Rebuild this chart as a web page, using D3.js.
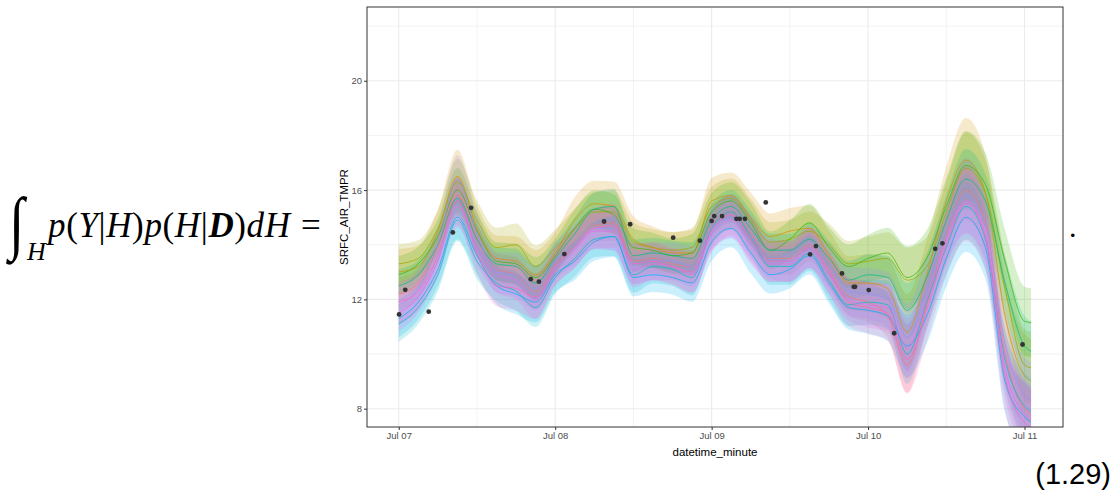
<!DOCTYPE html>
<html>
<head>
<meta charset="utf-8">
<script src="https://cdn.jsdelivr.net/npm/d3@7"></script>
<style>
  html, body { margin: 0; padding: 0; background: #fff; }
  svg { display: block; }
</style>
</head>
<body>
<div id="chart"></div>
<script>
// hours after Jul 07 00:00
const hours = [0, 3, 6, 9, 12, 15, 18, 21, 24, 27, 30, 33, 36, 39, 42, 45, 48, 51, 54, 57, 60, 63, 66, 69, 72, 75, 78, 81, 84, 87, 90, 93, 96, 97];

const redVals     = [12.2, 12.6, 13.9, 15.8, 14.2, 13.1, 12.9, 12.3, 13.3, 14.0, 14.7, 14.8, 13.4, 13.5, 13.3, 13.2, 14.7, 15.2, 14.4, 13.5, 13.5, 14.0, 13.1, 12.1, 11.9, 11.4, 9.6, 11.8, 14.3, 16.0, 14.8, 10.0, 8.0, 7.8];
const orangeVals  = [13.0, 13.2, 14.5, 16.5, 14.6, 13.5, 13.4, 12.9, 13.7, 14.9, 15.5, 15.4, 14.2, 13.9, 13.7, 13.7, 15.6, 15.8, 15.0, 14.3, 14.5, 14.6, 13.6, 12.6, 12.6, 12.4, 10.8, 12.9, 15.6, 17.1, 15.9, 11.4, 9.2, 9.0];
const oliveVals   = [13.3, 13.5, 14.6, 16.3, 14.9, 13.9, 14.0, 13.2, 13.9, 14.6, 15.2, 15.2, 14.1, 13.9, 13.8, 13.9, 15.4, 15.7, 14.9, 14.1, 14.2, 14.5, 14.0, 13.3, 13.4, 13.5, 12.7, 13.2, 15.2, 16.8, 15.9, 12.4, 9.6, 9.5];
const greenVals   = [12.9, 13.3, 14.3, 16.0, 14.5, 13.4, 13.3, 12.8, 13.6, 14.6, 15.3, 15.1, 13.9, 13.8, 13.6, 13.7, 15.2, 15.6, 14.8, 13.8, 14.2, 14.8, 13.9, 13.2, 13.5, 13.7, 12.8, 13.5, 15.4, 16.9, 16.2, 13.4, 11.2, 11.15];
const tealVals    = [12.5, 12.9, 14.0, 15.7, 14.2, 13.3, 13.2, 12.6, 13.5, 14.4, 15.3, 15.4, 13.6, 13.7, 13.6, 13.5, 14.9, 15.4, 14.6, 13.8, 13.8, 14.2, 13.5, 12.7, 12.9, 12.8, 11.6, 12.8, 14.9, 16.4, 15.6, 12.6, 10.3, 10.1];
const cyanVals    = [11.1, 11.7, 12.9, 14.9, 13.4, 12.6, 12.3, 11.7, 12.8, 13.5, 14.2, 14.3, 12.9, 13.2, 13.1, 12.8, 14.6, 15.2, 14.3, 13.2, 13.2, 13.7, 12.7, 11.8, 11.9, 11.8, 10.0, 11.9, 13.9, 15.4, 14.2, 9.8, 8.1, 7.9];
const blueVals    = [11.3, 11.9, 13.1, 15.0, 13.6, 12.5, 12.2, 11.9, 12.9, 13.4, 14.1, 14.3, 12.8, 12.9, 12.8, 12.6, 14.1, 14.6, 13.7, 12.9, 13.1, 13.6, 12.6, 11.7, 11.6, 11.4, 10.3, 11.4, 13.5, 15.0, 13.9, 9.0, 7.7, 7.5];
const purpleVals  = [11.8, 12.4, 14.0, 16.4, 14.4, 13.0, 12.9, 12.4, 13.4, 14.0, 14.6, 14.6, 13.3, 13.4, 13.4, 13.2, 14.6, 15.0, 14.3, 13.5, 13.4, 13.9, 13.2, 12.3, 12.2, 12.0, 10.6, 12.4, 14.5, 15.8, 14.7, 10.4, 8.5, 8.3];
const magentaVals = [11.5, 12.1, 13.4, 15.4, 13.9, 12.9, 12.7, 12.0, 13.1, 13.8, 14.5, 14.5, 13.1, 13.3, 13.2, 12.9, 14.4, 14.9, 14.0, 13.3, 13.3, 13.8, 12.9, 12.0, 11.8, 11.7, 10.2, 12.0, 14.2, 15.6, 14.4, 9.5, 7.8, 7.6];
const pinkVals    = [11.9, 12.3, 13.6, 15.6, 13.7, 12.5, 12.4, 12.1, 13.2, 13.9, 14.6, 14.7, 13.3, 13.4, 13.2, 13.0, 14.5, 15.1, 14.2, 13.4, 13.4, 13.9, 13.0, 11.9, 11.7, 11.5, 9.8, 11.6, 14.0, 15.5, 14.3, 9.2, 7.5, 7.3];

// half width of the ribbons per time step, and how wide each series' ribbon is relative to it
const bandHalf = [0.6, 0.55, 0.55, 0.7, 0.6, 0.6, 0.65, 0.65, 0.55, 0.6, 0.6, 0.65, 0.6, 0.55, 0.55, 0.6, 0.6, 0.6, 0.65, 0.6, 0.6, 0.6, 0.65, 0.7, 0.75, 0.8, 1.0, 0.9, 0.9, 1.1, 1.0, 1.0, 1.1, 1.1];
const bandScale = [1.0, 1.4, 1.2, 1.15, 1.0, 1.1, 1.15, 1.25, 1.1, 1.25];

// observed points
const obsHours  = [0.05, 1.0, 4.6, 8.3, 11.1, 20.25, 21.5, 25.4, 31.5, 35.5, 42.1, 46.2, 48.0, 48.4, 49.6, 51.8, 52.3, 53.1, 56.3, 63.1, 64.0, 68.0, 69.8, 70.0, 72.1, 76.0, 82.3, 83.4, 95.7];
const obsValues = [11.45, 12.35, 11.55, 14.45, 15.35, 12.74, 12.65, 13.66, 14.85, 14.75, 14.26, 14.15, 14.87, 15.05, 15.05, 14.95, 14.95, 14.95, 15.55, 13.65, 13.95, 12.95, 12.46, 12.46, 12.34, 10.76, 13.85, 14.05, 10.35];

const yTicks = [8, 12, 16, 20];
const yMinor = [10, 14, 18, 22];
const dayTicks = [0, 24, 48, 72, 96];
const dayMinor = [12, 36, 60, 84];

const allSeries = [redVals, orangeVals, oliveVals, greenVals, tealVals, cyanVals, blueVals, purpleVals, magentaVals, pinkVals];
const palette = ['#F8766D', '#D89000', '#A3A500', '#39B600', '#00BF7D', '#00BFC4', '#00B0F6', '#9590FF', '#E76BF3', '#FF62BC'];

const w = 1119;
const h = 497;
const pLeft = 367, pRight = 1063, pTop = 7, pBottom = 427;
const start = new Date(2020, 6, 7);
const toDate = hr => new Date(start.getTime() + hr * 3600 * 1000);

const xScale = d3.scaleTime()
  .domain([toDate(-4.87), toDate(101.9)])
  .range([pLeft, pRight]);
const yScale = d3.scaleLinear()
  .domain([7.33, 22.7])
  .range([pBottom, pTop]);

const svg = d3.select('#chart')
  .append('svg')
  .attr('width', w)
  .attr('height', h)
  .style('font-family', '"Liberation Sans", Arial, sans-serif');

svg.append('defs').append('clipPath')
  .attr('id', 'panel-clip')
  .append('rect')
  .attr('x', pLeft)
  .attr('y', pTop)
  .attr('width', pRight - pLeft)
  .attr('height', pBottom - pTop);

// grid
const grid = svg.append('g');
grid.selectAll('.ymin').data(yMinor).enter().append('line')
  .attr('x1', pLeft).attr('x2', pRight)
  .attr('y1', d => yScale(d)).attr('y2', d => yScale(d))
  .attr('stroke', '#EBEBEB').attr('stroke-width', 0.6);
grid.selectAll('.xmin').data(dayMinor).enter().append('line')
  .attr('y1', pTop).attr('y2', pBottom)
  .attr('x1', d => xScale(toDate(d))).attr('x2', d => xScale(toDate(d)))
  .attr('stroke', '#EBEBEB').attr('stroke-width', 0.6);
grid.selectAll('.ymaj').data(yTicks).enter().append('line')
  .attr('x1', pLeft).attr('x2', pRight)
  .attr('y1', d => yScale(d)).attr('y2', d => yScale(d))
  .attr('stroke', '#EBEBEB').attr('stroke-width', 1.1);
grid.selectAll('.xmaj').data(dayTicks).enter().append('line')
  .attr('y1', pTop).attr('y2', pBottom)
  .attr('x1', d => xScale(toDate(d))).attr('x2', d => xScale(toDate(d)))
  .attr('stroke', '#EBEBEB').attr('stroke-width', 1.1);

// ribbons, lines, points
const plot = svg.append('g').attr('clip-path', 'url(#panel-clip)');

const ribbon = k => d3.area()
  .curve(d3.curveMonotoneX)
  .x((d, i) => xScale(toDate(hours[i])))
  .y0((d, i) => yScale(d - bandHalf[i] * bandScale[k]))
  .y1((d, i) => yScale(d + bandHalf[i] * bandScale[k]));
const line = d3.line()
  .curve(d3.curveMonotoneX)
  .x((d, i) => xScale(toDate(hours[i])))
  .y(d => yScale(d));

plot.selectAll('.ribbon')
  .data(allSeries)
  .enter()
  .append('path')
  .attr('class', 'ribbon')
  .attr('d', (d, k) => ribbon(k)(d))
  .attr('fill', (d, i) => palette[i])
  .attr('fill-opacity', 0.2);

plot.selectAll('.series')
  .data(allSeries)
  .enter()
  .append('path')
  .attr('class', 'series')
  .attr('d', line)
  .attr('fill', 'none')
  .attr('stroke', (d, i) => palette[i])
  .attr('stroke-width', 0.8)
  .attr('stroke-opacity', 0.9);

plot.selectAll('circle')
  .data(obsHours)
  .enter()
  .append('circle')
  .attr('cx', d => xScale(toDate(d)))
  .attr('cy', (d, i) => yScale(obsValues[i]))
  .attr('r', 2.4)
  .attr('fill', '#333');

// panel border
svg.append('rect')
  .attr('x', pLeft).attr('y', pTop)
  .attr('width', pRight - pLeft).attr('height', pBottom - pTop)
  .attr('fill', 'none')
  .attr('stroke', '#333')
  .attr('stroke-width', 1);

// axes
const yAxis = d3.axisLeft(yScale).tickValues(yTicks).tickSize(3).tickPadding(2);
const xAxis = d3.axisBottom(xScale)
  .tickValues(dayTicks.map(toDate))
  .tickFormat(d3.timeFormat('%b %d'))
  .tickSize(3).tickPadding(2);

const gy = svg.append('g')
  .attr('transform', 'translate(' + pLeft + ', 0)')
  .call(yAxis);
const gx = svg.append('g')
  .attr('transform', 'translate(0, ' + pBottom + ')')
  .call(xAxis);

[gx, gy].forEach(g => {
  g.select('.domain').remove();
  g.selectAll('.tick line').attr('stroke', '#333');
  g.selectAll('.tick text')
    .attr('fill', '#4D4D4D')
    .style('font-size', '9.5px')
    .style('font-family', '"Liberation Sans", Arial, sans-serif');
});

svg.append('text')
  .attr('x', (pLeft + pRight) / 2)
  .attr('y', 456)
  .attr('text-anchor', 'middle')
  .style('font-size', '11.5px')
  .text('datetime_minute');

svg.append('text')
  .attr('transform', 'translate(348, ' + ((pTop + pBottom) / 2) + ') rotate(-90)')
  .attr('text-anchor', 'middle')
  .style('font-size', '11.5px')
  .text('SRFC_AIR_TMPR');

// equation around the chart
const serif = '"Liberation Serif", "Times New Roman", serif';
svg.append('text')
  .attr('transform', 'translate(9, 246) scale(1, 1.25)')
  .style('font-family', serif)
  .style('font-size', '56px')
  .style('font-style', 'italic')
  .text('\u222B');

svg.append('text')
  .attr('x', 27).attr('y', 260)
  .style('font-family', serif)
  .style('font-size', '26px')
  .style('font-style', 'italic')
  .text('H');

const eq = svg.append('text')
  .attr('x', 48).attr('y', 237)
  .attr('textLength', 242)
  .style('font-family', serif)
  .style('font-size', '35px');
const parts = [
  ['p', 'italic', 'normal'], ['(', 'normal', 'normal'], ['Y', 'italic', 'normal'],
  ['|', 'normal', 'normal'], ['H', 'italic', 'normal'], [')', 'normal', 'normal'],
  ['p', 'italic', 'normal'], ['(', 'normal', 'normal'], ['H', 'italic', 'normal'],
  ['|', 'normal', 'normal'], ['D', 'italic', 'bold'], [')', 'normal', 'normal'],
  ['d', 'italic', 'normal'], ['H', 'italic', 'normal']
];
parts.forEach(p => {
  eq.append('tspan').style('font-style', p[1]).style('font-weight', p[2]).text(p[0]);
});

svg.append('text')
  .attr('x', 301).attr('y', 237)
  .style('font-family', serif)
  .style('font-size', '35px')
  .text('=');

svg.append('text')
  .attr('x', 1069).attr('y', 237)
  .style('font-family', serif)
  .style('font-size', '30px')
  .text('.');

svg.append('text')
  .attr('x', 1111).attr('y', 484)
  .attr('text-anchor', 'end')
  .style('font-family', '"Liberation Sans", Arial, sans-serif')
  .style('font-size', '29px')
  .text('(1.29)');
</script>
</body>
</html>
